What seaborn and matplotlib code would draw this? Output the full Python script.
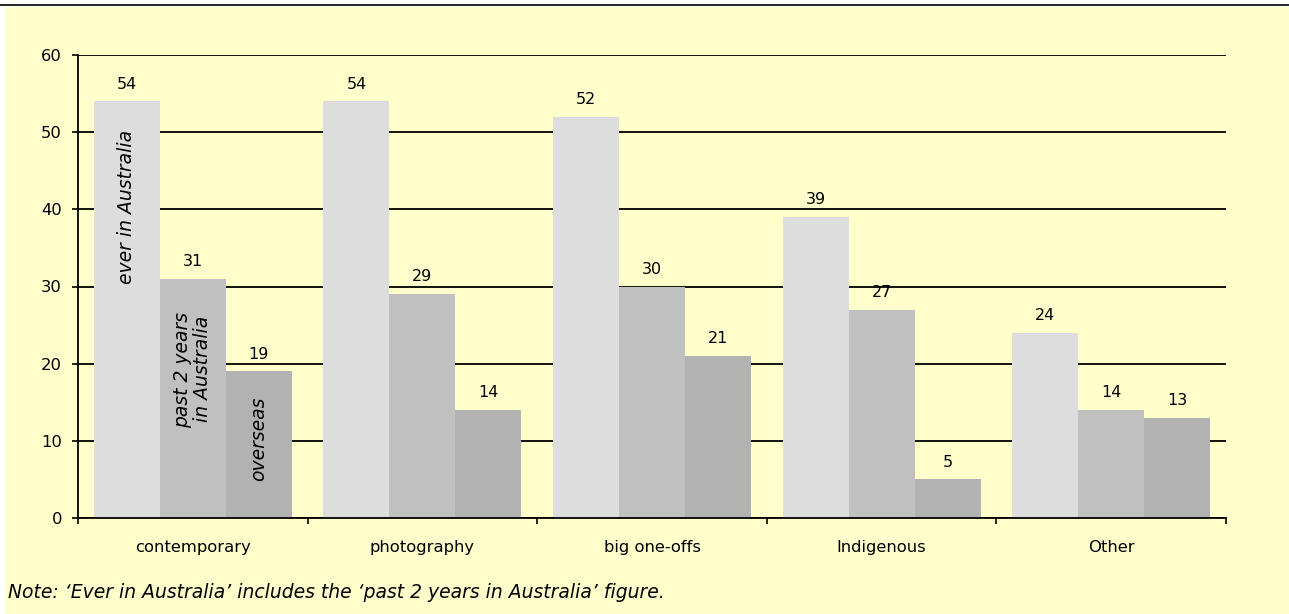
import matplotlib
matplotlib.use("Agg")
import matplotlib.pyplot as plt
from matplotlib.patches import Rectangle
from matplotlib.lines import Line2D
import pandas as pd
import seaborn as sns

# Chart data
categories = ["contemporary", "photography", "big one-offs", "Indigenous", "Other"]
series = ["ever in Australia", "past 2 years\n in Australia", "overseas"]
ever_in_australia = [54, 54, 52, 39, 24]
past_2_years = [31, 29, 30, 27, 14]
overseas = [19, 14, 21, 5, 13]
y_ticks = [0, 10, 20, 30, 40, 50, 60]
note = "Note: \u2018Ever in Australia\u2019 includes the \u2018past 2 years in Australia\u2019 figure."

# Styling
bar_colors = ["#DDDDDD", "#C0C0C0", "#B2B2B2"]
bg_color = "#FFFFCC"
inner_label_y = [40.3, 19.2, 10.3]  # where the series names sit inside the first group


def build_frame():
    rows = []
    for name, values in zip(series, [ever_in_australia, past_2_years, overseas]):
        for cat, v in zip(categories, values):
            rows.append({"category": cat, "series": name, "value": v})
    return pd.DataFrame(rows)


def main():
    sns.set_theme(style="white")
    plt.rcParams["font.family"] = ["DejaVu Sans"]
    plt.rcParams["font.size"] = 11

    df = build_frame()
    fig = plt.figure(figsize=(12.89, 6.14), dpi=100, facecolor="white")

    # pale yellow panel + thin rule at the top
    fig.patches.append(Rectangle((5 / 1289, 0), 1, 1 - 7 / 614, transform=fig.transFigure,
                                 facecolor=bg_color, edgecolor="none", zorder=-10))
    fig.lines.append(Line2D([0, 1], [1 - 4.5 / 614] * 2, transform=fig.transFigure,
                            color="black", lw=1.2))

    ax = fig.add_axes([78 / 1289, 1 - 518 / 614, (1226 - 78) / 1289, (518 - 55) / 614])
    ax.set_facecolor("none")

    sns.barplot(data=df, x="category", y="value", hue="series", order=categories,
                hue_order=series, palette=bar_colors, width=0.862, saturation=1,
                linewidth=0, legend=False, ax=ax)

    # value labels on top of each bar
    for cont in ax.containers:
        ax.bar_label(cont, fmt="%d", padding=7, fontsize=11.5, color="black")

    # series names written inside the first group of bars
    for cont, name, y in zip(ax.containers, series, inner_label_y):
        bar = cont[0]
        xc = bar.get_x() + bar.get_width() / 2
        ax.text(xc, y, name, rotation=90, ha="center", va="center", fontsize=13.5,
                style="italic", multialignment="left", color="black",
                linespacing=1.05)

    # axes
    ax.set_xlim(-0.5, len(categories) - 0.5)
    ax.set_ylim(0, 60)
    ax.set_yticks(y_ticks)
    ax.set_xlabel("")
    ax.set_ylabel("")
    ax.set_axisbelow(True)
    ax.yaxis.grid(True, color="black", lw=1.3)
    ax.xaxis.grid(False)
    for side in ["top", "right"]:
        ax.spines[side].set_visible(False)
    for side in ["left", "bottom"]:
        ax.spines[side].set_color("black")
        ax.spines[side].set_linewidth(1.3)

    ax.set_xticks([i - 0.5 for i in range(len(categories) + 1)], minor=True)
    ax.tick_params(axis="x", which="major", length=0, pad=16, labelsize=11.8, colors="black")
    ax.tick_params(axis="x", which="minor", length=4.5, width=1.2, direction="out",
                   color="black", bottom=True)
    ax.tick_params(axis="y", which="major", length=4.5, width=1.2, direction="out",
                   pad=7, labelsize=11.8, colors="black", left=True)

    fig.text(8 / 1289, 1 - 593 / 614, note, ha="left", va="center", fontsize=13.5,
             style="italic", color="black")

    fig.savefig("out.png", dpi=100, facecolor="white")


if __name__ == "__main__":
    main()
